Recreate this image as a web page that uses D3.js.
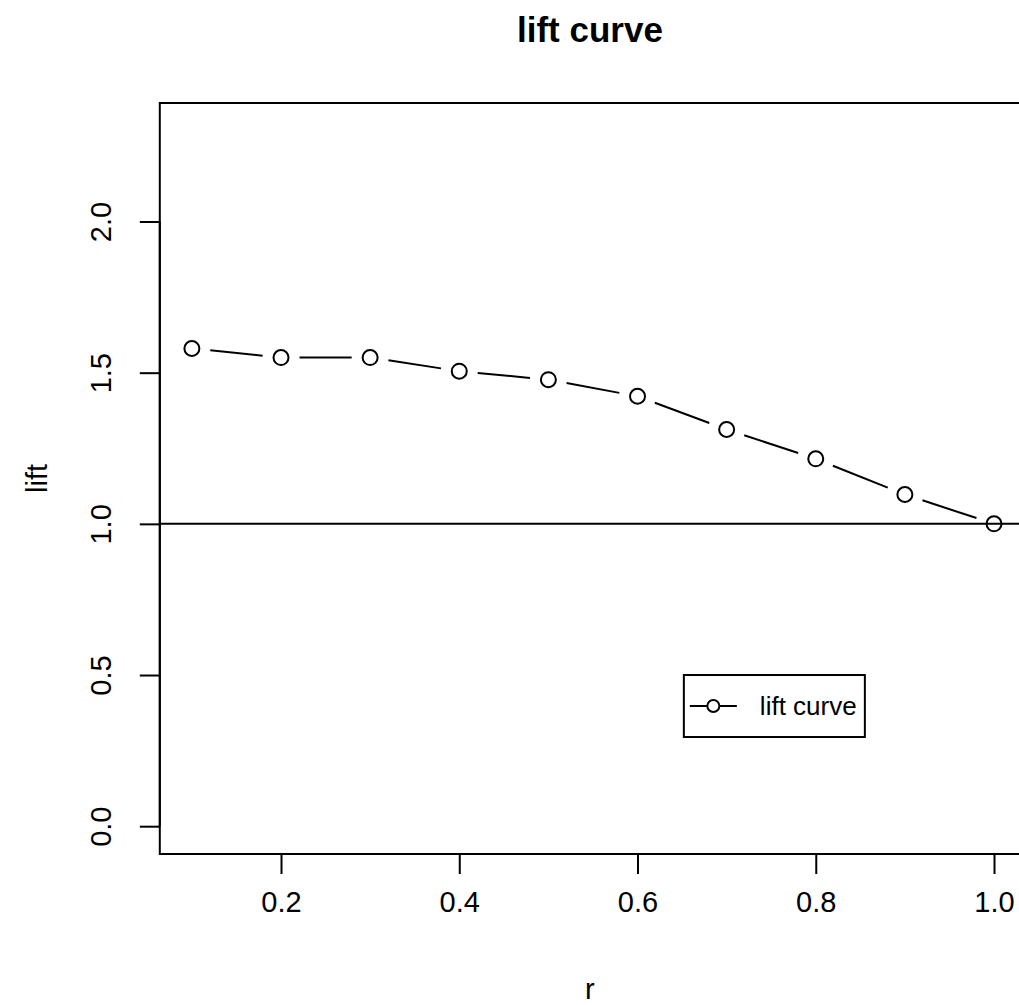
<!DOCTYPE html>
<html lang="en">
<head>
  <meta charset="UTF-8">
  <title>lift curve</title>
  <style>
    html, body { margin: 0; padding: 0; background: #fff; }
    body { font-family: "Liberation Sans", Arial, sans-serif; }
    svg { display: block; }
  </style>
  <script src="https://d3js.org/d3.v7.min.js"></script>
</head>
<body>
  <div id="chart"></div>

  <script>
    // data
    const rValues = [0.1, 0.2, 0.3, 0.4, 0.5, 0.6, 0.7, 0.8, 0.9, 1.0];
    const liftValues = [1.58, 1.55, 1.55, 1.505, 1.477, 1.422, 1.312, 1.215, 1.097, 1.0];
    const xTicks = [0.2, 0.4, 0.6, 0.8, 1.0];
    const yTicks = [0.0, 0.5, 1.0, 1.5, 2.0];
    const baseline = 1;
    const legendLabels = ["lift curve"];

    const width = 1019, height = 1005;
    const font = "'Liberation Sans', Arial, sans-serif";

    // R style 4% padding around the data range
    const xMin = 0.1, xMax = 1.0, yMin = 0, yMax = 2.3;
    const xPad = (xMax - xMin) * 0.04, yPad = (yMax - yMin) * 0.04;

    const x = d3.scaleLinear()
        .domain([xMin - xPad, xMax + xPad])
        .range([159.8, 1026.1]);
    const y = d3.scaleLinear()
        .domain([yMin - yPad, yMax + yPad])
        .range([854, 103]);

    const svg = d3.create("svg")
        .attr("width", width)
        .attr("height", height)
        .attr("viewBox", [0, 0, width, height]);

    svg.append("rect")
        .attr("width", width).attr("height", height).attr("fill", "#fff");

    const [x0, x1] = x.range();
    const [yb, yt] = y.range();

    // plot box
    svg.append("rect")
        .attr("x", x0).attr("y", yt)
        .attr("width", x1 - x0).attr("height", yb - yt)
        .attr("fill", "none").attr("stroke", "#000").attr("stroke-width", 2);

    // x axis
    const xAxis = svg.append("g")
        .attr("transform", `translate(0,${yb})`)
        .call(d3.axisBottom(x).tickValues(xTicks).tickSize(20).tickPadding(17)
          .tickFormat(d3.format(".1f")));
    xAxis.select(".domain")
        .attr("d", `M${x(xTicks[0])},0H${x(xTicks[xTicks.length - 1])}`)
        .attr("stroke-width", 2);
    xAxis.selectAll(".tick line").attr("stroke-width", 2);
    xAxis.selectAll(".tick text")
        .attr("font-family", font).attr("font-size", 29).attr("fill", "#000");

    // y axis, labels rotated like R's default
    const yAxis = svg.append("g")
        .attr("transform", `translate(${x0},0)`)
        .call(d3.axisLeft(y).tickValues(yTicks).tickSize(20).tickFormat(d3.format(".1f")));
    yAxis.select(".domain")
        .attr("d", `M0,${y(yTicks[0])}V${y(yTicks[yTicks.length - 1])}`)
        .attr("stroke-width", 2);
    yAxis.selectAll(".tick line").attr("stroke-width", 2);
    yAxis.selectAll(".tick text")
        .attr("font-family", font).attr("font-size", 29).attr("fill", "#000")
        .attr("x", null).attr("dy", null)
        .attr("text-anchor", "middle")
        .attr("transform", "translate(-59,0) rotate(-90) translate(0,10.5)");

    // title and axis labels
    svg.append("text")
        .attr("x", (x0 + x1) / 2 - 3).attr("y", 42)
        .attr("text-anchor", "middle")
        .attr("font-family", font).attr("font-size", 35).attr("font-weight", "bold")
        .text("lift curve");

    svg.append("text")
        .attr("x", (x0 + x1) / 2 - 3).attr("y", 999)
        .attr("text-anchor", "middle")
        .attr("font-family", font).attr("font-size", 29)
        .text("r");

    svg.append("text")
        .attr("transform", `translate(47,${(yb + yt) / 2}) rotate(-90)`)
        .attr("text-anchor", "middle")
        .attr("font-family", font).attr("font-size", 29)
        .text("lift");

    // clip to the plot region
    svg.append("clipPath").attr("id", "plotclip")
      .append("rect")
        .attr("x", x0).attr("y", yt).attr("width", x1 - x0).attr("height", yb - yt);

    const plot = svg.append("g").attr("clip-path", "url(#plotclip)");

    // reference line at lift = 1
    plot.append("line")
        .attr("x1", x0).attr("x2", x1)
        .attr("y1", y(baseline)).attr("y2", y(baseline))
        .attr("stroke", "#000").attr("stroke-width", 2);

    // type = "b": segments with gaps around the points
    const pts = rValues.map((r, i) => [x(r), y(liftValues[i])]);
    const gap = 18.5;
    const segs = [];
    for (let i = 0; i < pts.length - 1; i++) {
      const [ax, ay] = pts[i], [bx, by] = pts[i + 1];
      const len = Math.hypot(bx - ax, by - ay);
      if (len <= 2 * gap) continue;
      const ux = (bx - ax) / len, uy = (by - ay) / len;
      segs.push([ax + ux * gap, ay + uy * gap, bx - ux * gap, by - uy * gap]);
    }
    plot.append("g")
      .selectAll("line")
      .data(segs)
      .join("line")
        .attr("x1", d => d[0]).attr("y1", d => d[1])
        .attr("x2", d => d[2]).attr("y2", d => d[3])
        .attr("stroke", "#000").attr("stroke-width", 2);

    plot.append("g")
      .selectAll("circle")
      .data(pts)
      .join("circle")
        .attr("cx", d => d[0]).attr("cy", d => d[1])
        .attr("r", 7.5)
        .attr("fill", "none").attr("stroke", "#000").attr("stroke-width", 2);

    // legend
    const lx = x(0.652), ly = y(0.5);
    const legend = svg.append("g").attr("transform", `translate(${lx},${ly})`);
    legend.append("rect")
        .attr("width", 181).attr("height", 62)
        .attr("fill", "#fff").attr("stroke", "#000").attr("stroke-width", 2);
    legendLabels.forEach((lab, i) => {
      const cy = 31 + i * 30;
      legend.append("line")
          .attr("x1", 6).attr("x2", 53).attr("y1", cy).attr("y2", cy)
          .attr("stroke", "#000").attr("stroke-width", 2);
      legend.append("circle")
          .attr("cx", 29.5).attr("cy", cy).attr("r", 6)
          .attr("fill", "#fff").attr("stroke", "#000").attr("stroke-width", 2);
      legend.append("text")
          .attr("x", 76).attr("y", cy + 9)
          .attr("font-family", font).attr("font-size", 26)
          .text(lab);
    });

    document.getElementById("chart").appendChild(svg.node());
  </script>
</body>
</html>
